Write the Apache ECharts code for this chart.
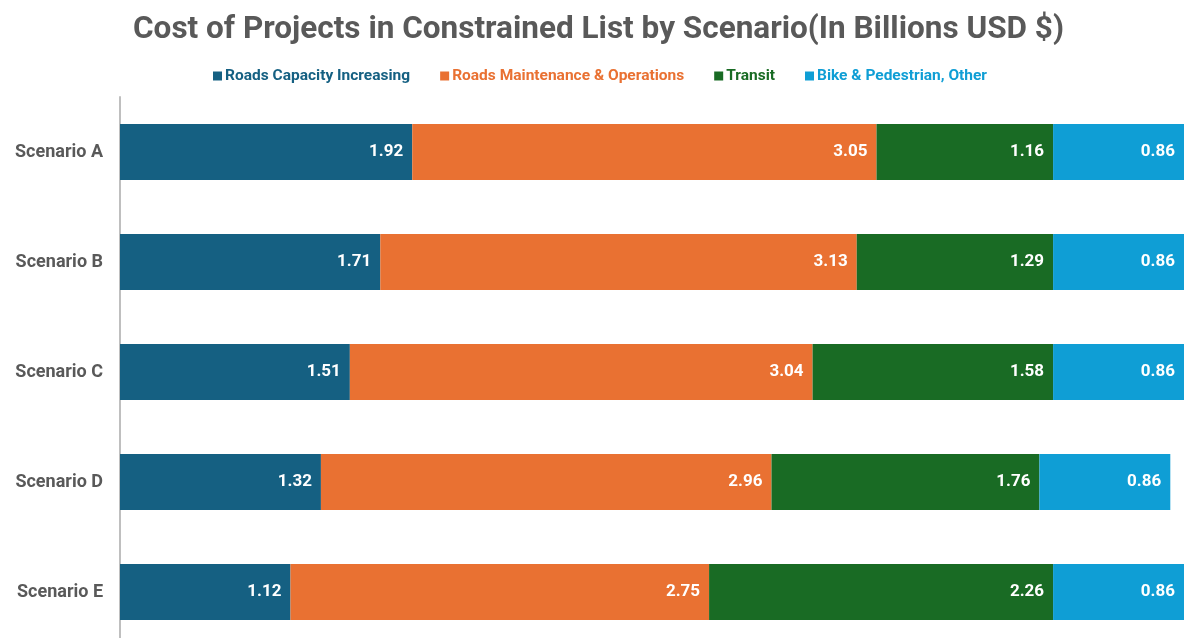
<!DOCTYPE html>
<html><head><meta charset="utf-8">
<script src="https://cdn.jsdelivr.net/npm/echarts@6/dist/echarts.min.js"></script>
<style>html,body{margin:0;padding:0;background:#fff;overflow:hidden}#c{width:1184px;height:647px}</style>
</head><body><div id="c"></div>
<script>
const categories = ['Scenario A','Scenario B','Scenario C','Scenario D','Scenario E'];
const seriesNames = ['Roads Capacity Increasing','Roads Maintenance & Operations','Transit','Bike & Pedestrian, Other'];
const roadsCapacity = [1.92,1.71,1.51,1.32,1.12];
const roadsMaintenance = [3.05,3.13,3.04,2.96,2.75];
const transit = [1.16,1.29,1.58,1.76,2.26];
const bikePed = [0.86,0.86,0.86,0.86,0.86];
const colors = ['#156082','#E97132','#196B24','#0F9ED5'];
const values = [roadsCapacity, roadsMaintenance, transit, bikePed];

const chart = echarts.init(document.getElementById('c'));
chart.setOption({
  animation:false,
  title:{text:'Cost of Projects in Constrained List by Scenario(In Billions USD $)',left:128,top:9,
    textStyle:{fontFamily:'Roboto',fontWeight:'bold',fontSize:31.5,color:'#595959'}},
  legend:{top:63,left:208,itemWidth:9,itemHeight:9,itemGap:30,icon:'rect',
    data:seriesNames.map((n,i)=>({name:n,textStyle:{color:colors[i]}})),
    textStyle:{fontFamily:'Roboto',fontWeight:'bold',fontSize:15.5,padding:[0,0,0,-2]}},
  grid:{left:120,right:0,top:97,bottom:0},
  xAxis:{type:'value',min:0,max:6.99,show:false},
  yAxis:{type:'category',data:categories,inverse:true,
    axisLine:{show:true,lineStyle:{color:'#BFBFBF',width:2}},axisTick:{show:false},
    axisLabel:{fontFamily:'Roboto',fontWeight:'bold',fontSize:18,color:'#595959',margin:17}},
  series:values.map((v,i)=>({name:seriesNames[i],type:'bar',stack:'t',data:v,barWidth:'51%',
    itemStyle:{color:colors[i]},
    label:{show:true,position:'insideRight',distance:9,color:'#fff',fontFamily:'Roboto',fontWeight:'bold',fontSize:17,
      formatter:p=>p.value.toFixed(2)}}))
});
</script></body></html>
